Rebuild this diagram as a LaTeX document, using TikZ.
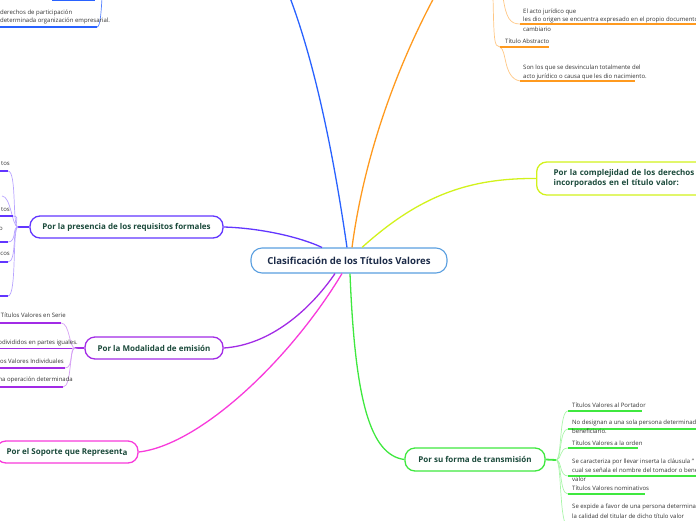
\documentclass[tikz,border=0pt]{standalone}
\usepackage{fontspec}
\setmainfont{Open Sans}
\definecolor{cblue}{HTML}{2962FF}
\definecolor{corange}{HTML}{FF9A1F}
\definecolor{cyellow}{HTML}{D2F21C}
\definecolor{cindigo}{HTML}{6236FF}
\definecolor{cpurple}{HTML}{A22BE6}
\definecolor{cmagenta}{HTML}{F83ADB}
\definecolor{cgreen}{HTML}{3FE83F}
\definecolor{ccenter}{HTML}{5A9FE0}
\definecolor{ntext}{HTML}{1B4A3B}
\definecolor{ctext}{HTML}{1C2B48}
\definecolor{stext}{HTML}{333333}
\begin{document}
\begin{tikzpicture}[x=1pt,y=-1pt,
 branch/.style={line width=1.3pt},
 sub/.style={line width=0.7pt},
 uline/.style={line width=1.8pt},
 topic/.style={draw, fill=white, rounded corners=10pt, line width=1.3pt,
   font=\fontsize{8}{10.5}\selectfont\bfseries, text=ntext, inner sep=0pt, minimum height=22pt},
 lbl/.style={font=\fontsize{6}{8}\selectfont, text=stext, inner sep=0pt, align=left},
]
\useasboundingbox (0,0) rectangle (696,520);
\clip (0,0) rectangle (696,520);

% ---------- nodes ----------
\node[draw=ccenter, fill=white, rounded corners=11pt, line width=1.1pt, minimum width=196pt,
  minimum height=25pt, inner sep=0pt, font=\fontsize{9.6}{11}\selectfont\bfseries, text=ctext]
  (c) at (349,260.5) {Clasificación de los Títulos Valores};
\node[topic, draw=cindigo, minimum width=193pt] (req) at (126.5,227) {Por la presencia de los requisitos formales};
\node[topic, draw=cpurple, minimum width=138pt] (mod) at (154,348) {Por la Modalidad de emisión};
\node[topic, draw=cmagenta, minimum width=142pt] (sop) at (67,452) {Por el Soporte que Represent\raisebox{-0.4ex}{a}};
\node[topic, draw=cgreen, minimum width=140pt, minimum height=23pt] (tra) at (475,459.5) {Por su forma de transmisión};
\node[topic, draw=cyellow, anchor=west, text width=150pt, minimum height=33pt, inner xsep=17pt, align=left]
  (com) at (536,178.5) {Por la complejidad de los derechos\\incorporados en el título valor:};

% ---------- main branches ----------
\coordinate (blueend) at (289,-5);
\coordinate (orangeend) at (437,-8);
\draw[branch, cblue] ([xshift=-2pt]c.north) .. controls (330,130) and (310,50) .. (blueend);
\draw[branch, corange] ([xshift=3pt]c.north) .. controls (365,150) and (400,60) .. (orangeend);
\draw[branch, cyellow] ([xshift=13pt]c.north) .. controls (420,195) and (470,178) .. (com.west);
\draw[branch, cindigo] (req.east) .. controls (260,228) and (300,237) .. ([xshift=-27pt]c.north);
\draw[branch, cpurple] (mod.east) .. controls (270,345) and (310,310) .. ([xshift=-14pt]c.south);
\draw[branch, cmagenta] (sop.east) .. controls (200,445) and (290,360) .. ([xshift=-7pt]c.south);
\draw[branch, cgreen] ([xshift=1pt]c.south) .. controls (355,400) and (370,455) .. (tra.west);

% ---------- blue (top left) ----------
\coordinate (bl0) at (102,-2);
\coordinate (bl1) at (97,27);
\coordinate (bl2) at (0,27);
\draw[uline, cblue] (52,0.5) -- (95,0.5);
\draw[sub, cblue!80] (bl0) .. controls (101,15) and (100,27) .. (bl1);
\draw[uline, cblue] (bl2) -- (bl1);
\node[lbl, anchor=west] (b1) at (0,13) {derechos de participación};
\node[lbl, anchor=west] (b2) at (0,21) {determinada organización empresarial.};

% ---------- orange (top right) ----------
\coordinate (o0) at (493,-3);
\coordinate (o1) at (503,-3);
\coordinate (ua1) at (520,24);  \coordinate (ub1) at (696,24);
\coordinate (ua2) at (500,47);  \coordinate (ub2) at (549,47);
\coordinate (ua3) at (520,81);  \coordinate (ub3) at (635,81);
\draw[sub, corange!55] (o1) .. controls (506,18) and (510,24) .. (ua1);
\draw[sub, corange!55] (o0) .. controls (494,40) and (494,47) .. (ua2);
\draw[sub, corange!55] (ua2) .. controls (507,50) and (503,78) .. (ua3);
\draw[uline, corange] (ua1) -- (ub1);
\draw[uline, corange] (ua2) -- (ub2);
\draw[uline, corange] (ua3) -- (ub3);
\node[lbl, anchor=west] (o_t1) at (523,12) {El acto jurídico que};
\node[lbl, anchor=west] (o_t2) at (523,20) {les dio origen se encuentra expresado en el propio documento};
\node[lbl, anchor=west] (o_t3) at (523,29) {cambiario};
\node[lbl, anchor=west] (o_t4) at (505,41) {Título Abstracto};
\node[lbl, anchor=west] (o_t5) at (523,68) {Son los que se desvinculan totalmente del};
\node[lbl, anchor=west] (o_t6) at (523,77) {acto jurídico o causa que les dio nacimiento.};

% ---------- indigo (left) ----------
\coordinate (r0) at (18,227);
\coordinate (r1) at (8,171);
\coordinate (r2) at (2,196);
\coordinate (r3) at (13,216);
\coordinate (r4) at (8,242);
\coordinate (r5) at (8,262);
\coordinate (r6) at (8,296);
\draw[uline, cindigo] (req.west) -- (r0);
\foreach \p in {r1,r2,r3,r4,r5,r6}
  \draw[sub, cindigo!45] (r0) .. controls (12,227) and +(9,0) .. (\p);
\draw[uline, cindigo] (0,171) -- (r1);
\draw[uline, cindigo] (0,216) -- (r3);
\draw[uline, cindigo] (0,242) -- (r4);
\draw[uline, cindigo] (0,262) -- (r5);
\draw[uline, cindigo] (0,296) -- (r6);
\node[lbl, anchor=east] (i1) at (10,164) {tos};
\node[lbl, anchor=east] (i2) at (10,210) {tos};
\node[lbl, anchor=east] (i3) at (3,229) {o};
\node[lbl, anchor=east] (i4) at (10,254) {cos};

% ---------- purple (left) ----------
\coordinate (m0) at (75,348);
\coordinate (m1) at (61,323);
\coordinate (m2) at (72,348.5);
\coordinate (m3) at (65,368);
\coordinate (m4) at (63,387);
\draw[uline, cpurple] (mod.west) -- (m0);
\foreach \p in {m1,m2,m3,m4}
  \draw[sub, cpurple!45] (m0) .. controls (69,348) and +(9,0) .. (\p);
\draw[uline, cpurple] (0,323) -- (m1);
\draw[uline, cpurple] (0,348.5) -- (m2);
\draw[uline, cpurple] (0,368) -- (m3);
\draw[uline, cpurple] (0,387) -- (m4);
\node[lbl, anchor=east] (p1) at (66,315) {Títulos Valores en Serie};
\node[lbl, anchor=east] (p2) at (78,342.5) {odivididos en partes iguales.};
\node[lbl, anchor=east] (p3) at (64,361) {los Valores Individuales};
\node[lbl, anchor=east] (p4) at (73,380) {na operación determinada};

% ---------- green (bottom right) ----------
\coordinate (g0) at (556,460);
\coordinate (g1) at (568,411);  \coordinate (h1) at (642,411);
\coordinate (g2) at (568,429);  \coordinate (h2) at (696,429);
\coordinate (g3) at (568,448);  \coordinate (h3) at (638,448);
\coordinate (g4) at (568,476);  \coordinate (h4) at (696,476);
\coordinate (g5) at (568,494);  \coordinate (h5) at (645,494);
\coordinate (g6) at (568,526);
\draw[uline, cgreen] (tra.east) -- (g0);
\foreach \p in {g1,g2,g3,g4,g5,g6}
  \draw[sub, cgreen!45] (g0) .. controls (562,460) and +(-9,0) .. (\p);
\draw[uline, cgreen] (g1) -- (h1);
\draw[uline, cgreen] (g2) -- (h2);
\draw[uline, cgreen] (g3) -- (h3);
\draw[uline, cgreen] (g4) -- (h4);
\draw[uline, cgreen] (g5) -- (h5);
\node[lbl, anchor=west] (t1) at (572,405) {Títulos Valores al Portador};
\node[lbl, anchor=west] (t2) at (572,423) {No designan a una sola persona determinad};
\node[lbl, anchor=west] (t3) at (572,431) {beneficiario.};
\node[lbl, anchor=west] (t4) at (572,443) {Títulos Valores a la orden};
\node[lbl, anchor=west] (t5) at (572,462) {Se caracteriza por llevar inserta la cláusula "};
\node[lbl, anchor=west] (t6) at (572,470.5) {cual se señala el nombre del tomador o bene};
\node[lbl, anchor=west] (t7) at (572,479) {valor};
\node[lbl, anchor=west] (t8) at (572,488) {Títulos Valores nominativos};
\node[lbl, anchor=west] (t9) at (572,507) {Se expide a favor de una persona determina};
\node[lbl, anchor=west] (t10) at (572,516) {la calidad del titular de dicho título valor};
\end{tikzpicture}
\end{document}
